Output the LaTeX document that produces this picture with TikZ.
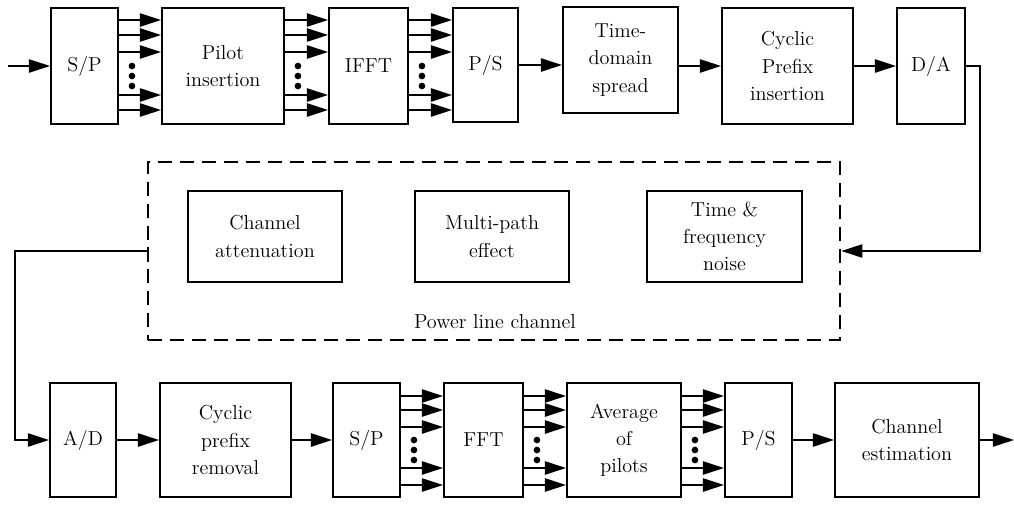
\documentclass[tikz,border=0pt]{standalone}
\usetikzlibrary{arrows.meta,positioning,calc}
\tikzset{
  every node/.style={font=\fontsize{11.5}{15.5}\selectfont},
  blk/.style={draw, line width=1.1pt, align=center, inner sep=0pt},
  arr/.style={-{Triangle[length=12pt, width=7.5pt]}, line width=1pt},
  chanbox/.style={draw, dash pattern=on 8pt off 4.5pt, line width=1.5pt, inner sep=0pt},
  dot/.style={circle, fill, inner sep=0pt, minimum size=3.8pt},
}

\begin{document}
\begin{tikzpicture}[x=0.02cm, y=-0.02cm]
  \useasboundingbox (0,0) rectangle (1014,504);

  % --- transmitter row -------------------------------------------------------
  \foreach \n/\x/\y/\w/\h/\t in {
      sp1/84.5/66/1.34/2.32/{S/P},
      pilot/223/66/2.44/2.32/{Pilot\\insertion},
      ifft/368.5/66/1.58/2.32/{IFFT},
      ps1/485.5/65/1.30/2.28/{P/S},
      tds/620.5/60/2.30/2.12/{Time-\\domain\\spread},
      cpi/787.5/66/2.62/2.32/{Cyclic\\Prefix\\insertion},
      da/931/66/1.36/2.32/{D/A}} {
    \node[blk, minimum width=\w cm, minimum height=\h cm] (\n) at (\x,\y) {\t};
  }

  % --- receiver row ----------------------------------------------------------
  \foreach \n/\x/\w/\t in {
      ad/83/1.32/{A/D},
      cpr/225.5/2.62/{Cyclic\\prefix\\removal},
      sp2/366.5/1.34/{S/P},
      fft/483.5/1.58/{FFT},
      avg/624/2.28/{Average\\of\\pilots},
      ps2/758.5/1.34/{P/S},
      ce/907/2.88/{Channel\\estimation}} {
    \node[blk, minimum width=\w cm, minimum height=2.28cm] (\n) at (\x,440) {\t};
  }

  % --- power line channel ----------------------------------------------------
  \node[chanbox, minimum width=13.84cm, minimum height=3.56cm] (chan) at (494,251) {};
  \foreach \n/\x/\t in {ca/265/{Channel\\attenuation}, mpe/492/{Multi-path\\effect}, tfn/724.5/{Time \&\\frequency\\noise}} {
    \node[blk, minimum width=3.09cm, minimum height=1.82cm] (\n) at (\x,236.5) {\t};
  }
  \node (chlabel) at (495,322) {Power line channel};

  % parallel branches
  \foreach \u/\v in {sp1/pilot, pilot/ifft, ifft/ps1} {
    \foreach \y in {20,35,52,95,110}
      \draw[arr] (\u.east |- 0,\y) -- (\v.west |- 0,\y);
    \foreach \y in {66,76,86}
      \node[dot] at ($(\u.east |- 0,\y)+(13,0)$) {};
  }
  \foreach \u/\v in {sp2/fft, fft/avg, avg/ps2} {
    \foreach \y in {396,410,427,468,485}
      \draw[arr] (\u.east |- 0,\y) -- (\v.west |- 0,\y);
    \foreach \y in {440,450,460}
      \node[dot] at ($(\u.east |- 0,\y)+(13,0)$) {};
  }

  % serial links
  \coordinate (in) at (8,66);
  \coordinate (out) at (1014,440);
  \draw[arr] (in) -- (sp1.west);
  \draw[arr] (ps1.east) -- (ps1.east -| tds.west);
  \draw[arr] (tds.east |- cpi.west) -- (cpi.west);
  \draw[arr] (cpi.east) -- (da.west);
  \draw[arr] (da.east) -- ++(14,0) |- (chan.east);
  \draw[arr] (chan.west) -- ++(-132,0) |- (ad.west);
  \draw[arr] (ad.east) -- (cpr.west);
  \draw[arr] (cpr.east) -- (sp2.west);
  \draw[arr] (ps2.east) -- (ce.west);
  \draw[arr] (ce.east) -- (out);
\end{tikzpicture}
\end{document}
